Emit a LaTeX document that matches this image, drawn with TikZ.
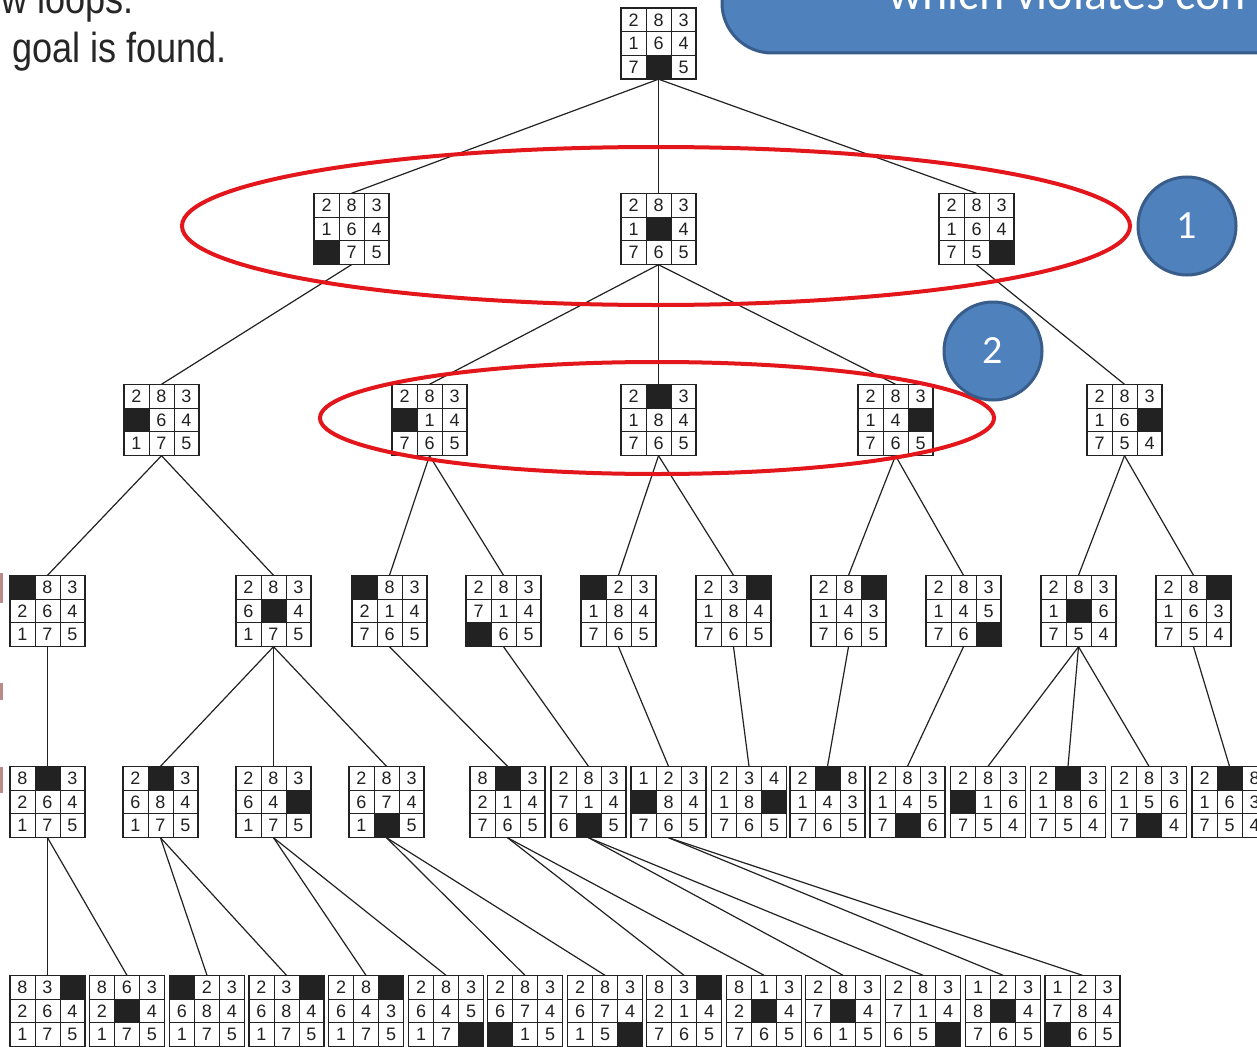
\documentclass[tikz,border=0pt]{standalone}
\usepackage{fontspec}
\setmainfont{Liberation Sans}
\newfontfamily\carlito{Carlito}
\usetikzlibrary{positioning}
\definecolor{tile}{HTML}{222222}
\definecolor{callblue}{HTML}{4F81BD}
\definecolor{callrim}{HTML}{385D8A}
\definecolor{ring}{HTML}{E3171B}
\definecolor{slidetxt}{HTML}{262626}
\definecolor{smudge}{HTML}{B98A8A}

% one 8-puzzle board: name, x, y, nine entries (0 = blank)
\newcommand{\puzzle}[4]{%
  \node[board] (#1) at (#2,#3) {};
  \foreach \v [count=\k from 0] in {#4} {
    \pgfmathtruncatemacro\cc{mod(\k,3)}
    \pgfmathtruncatemacro\rr{div(\k,3)}
    \ifnum\v=0
      \fill[tile] (#2-37.5+\cc*25,#3-35.5+\rr*23.667) rectangle ++(25,23.667);
    \else
      \node[num] at (#2-25+\cc*25,#3-23.667+\rr*23.667) {\v};
    \fi
  }
  \draw[cellline] (#2-12.5,#3-35.5) -- ++(0,71) (#2+12.5,#3-35.5) -- ++(0,71)
    (#2-37.5,#3-11.83) -- ++(75,0) (#2-37.5,#3+11.83) -- ++(75,0);
  \draw[frame] (#2-37.5,#3-35.5) rectangle ++(75,71);
}

\begin{document}
\begin{tikzpicture}[x=1pt,y=-1pt,
  board/.style={minimum width=75pt,minimum height=71pt,inner sep=0pt},
  num/.style={font=\fontsize{18}{18}\selectfont,text=tile,inner sep=0pt},
  cellline/.style={tile,line width=1pt},
  frame/.style={tile,line width=1.8pt},
  edge/.style={tile,line width=1.2pt},
  loop/.style={draw=ring,line width=4pt},
  slide/.style={anchor=base west,inner sep=0pt,text=slidetxt,
    font=\fontsize{42}{42}\selectfont},
  badge/.style={circle,fill=callblue,draw=callrim,line width=3pt,
    minimum size=98pt,text=white,font=\carlito\fontsize{40}{40}\selectfont}]
\useasboundingbox (0,0) rectangle (1257,1046);
\fill[white] (0,0) rectangle (1257,1046);

% slide leftovers
\fill[callblue,draw=callrim,line width=3pt,rounded corners=50pt]
  (722,-90) rectangle (1330,53);
\node[anchor=base west,inner sep=0pt,text=white,
  font=\carlito\fontsize{48}{48}\selectfont] (note) at (888,10) {which violates con};
\node[slide] (rule1) at (1,14) {\scalebox{0.86}[1]{w loops.}};
\node[slide] (rule2) at (12,63) {\scalebox{0.86}[1]{goal is found.}};
\fill[smudge] (0,573) rectangle (3,603);
\fill[smudge] (0,683) rectangle (3,700);
\fill[smudge] (0,767) rectangle (3,793);

% search tree
\puzzle{r}{658.5}{43.5}{2,8,3,1,6,4,7,0,5}
\puzzle{a1}{351.5}{229}{2,8,3,1,6,4,0,7,5}
\puzzle{a2}{658.5}{229}{2,8,3,1,0,4,7,6,5}
\puzzle{a3}{976.5}{229}{2,8,3,1,6,4,7,5,0}
\puzzle{b1}{161.5}{420}{2,8,3,0,6,4,1,7,5}
\puzzle{b2}{429.5}{420}{2,8,3,0,1,4,7,6,5}
\puzzle{b3}{658.5}{420}{2,0,3,1,8,4,7,6,5}
\puzzle{b4}{895.5}{420}{2,8,3,1,4,0,7,6,5}
\puzzle{b5}{1124.5}{420}{2,8,3,1,6,0,7,5,4}
\puzzle{c1}{47.5}{611}{0,8,3,2,6,4,1,7,5}
\puzzle{c2}{273.5}{611}{2,8,3,6,0,4,1,7,5}
\puzzle{c3}{389.5}{611}{0,8,3,2,1,4,7,6,5}
\puzzle{c4}{503.5}{611}{2,8,3,7,1,4,0,6,5}
\puzzle{c5}{618.5}{611}{0,2,3,1,8,4,7,6,5}
\puzzle{c6}{733.5}{611}{2,3,0,1,8,4,7,6,5}
\puzzle{c7}{848.5}{611}{2,8,0,1,4,3,7,6,5}
\puzzle{c8}{963.5}{611}{2,8,3,1,4,5,7,6,0}
\puzzle{c9}{1078.5}{611}{2,8,3,1,0,6,7,5,4}
\puzzle{c10}{1193.5}{611}{2,8,0,1,6,3,7,5,4}
\puzzle{d1}{47.5}{802}{8,0,3,2,6,4,1,7,5}
\puzzle{d2}{160.5}{802}{2,0,3,6,8,4,1,7,5}
\puzzle{d3}{273.5}{802}{2,8,3,6,4,0,1,7,5}
\puzzle{d4}{386.5}{802}{2,8,3,6,7,4,1,0,5}
\puzzle{d5}{507.5}{802}{8,0,3,2,1,4,7,6,5}
\puzzle{d6}{588.5}{802}{2,8,3,7,1,4,6,0,5}
\puzzle{d7}{668.5}{802}{1,2,3,0,8,4,7,6,5}
\puzzle{d8}{749}{802}{2,3,4,1,8,0,7,6,5}
\puzzle{d9}{827.5}{802}{2,0,8,1,4,3,7,6,5}
\puzzle{d10}{907.5}{802}{2,8,3,1,4,5,7,0,6}
\puzzle{d11}{988}{802}{2,8,3,0,1,6,7,5,4}
\puzzle{d12}{1068}{802}{2,0,3,1,8,6,7,5,4}
\puzzle{d13}{1149}{802}{2,8,3,1,5,6,7,0,4}
\puzzle{d14}{1229.5}{802}{2,0,8,1,6,3,7,5,4}
\puzzle{e1}{47.5}{1011}{8,3,0,2,6,4,1,7,5}
\puzzle{e2}{127}{1011}{8,6,3,2,0,4,1,7,5}
\puzzle{e3}{207}{1011}{0,2,3,6,8,4,1,7,5}
\puzzle{e4}{286.5}{1011}{2,3,0,6,8,4,1,7,5}
\puzzle{e5}{366}{1011}{2,8,0,6,4,3,1,7,5}
\puzzle{e6}{446}{1011}{2,8,3,6,4,5,1,7,0}
\puzzle{e7}{525}{1011}{2,8,3,6,7,4,0,1,5}
\puzzle{e8}{605}{1011}{2,8,3,6,7,4,1,5,0}
\puzzle{e9}{684}{1011}{8,3,0,2,1,4,7,6,5}
\puzzle{e10}{764}{1011}{8,1,3,2,0,4,7,6,5}
\puzzle{e11}{843}{1011}{2,8,3,7,0,4,6,1,5}
\puzzle{e12}{923}{1011}{2,8,3,7,1,4,6,5,0}
\puzzle{e13}{1003}{1011}{1,2,3,8,0,4,7,6,5}
\puzzle{e14}{1082.5}{1011}{1,2,3,7,8,4,0,6,5}

\draw[edge] (r.south) -- (a1.north);
\draw[edge] (r.south) -- (a2.north);
\draw[edge] (r.south) -- (a3.north);
\draw[edge] (a1.south) -- (b1.north);
\draw[edge] (a2.south) -- (b2.north);
\draw[edge] (a2.south) -- (b3.north);
\draw[edge] (a2.south) -- (b4.north);
\draw[edge] (a3.south) -- (b5.north);
\draw[edge] (b1.south) -- (c1.north);
\draw[edge] (b1.south) -- (c2.north);
\draw[edge] (b2.south) -- (c3.north);
\draw[edge] (b2.south) -- (c4.north);
\draw[edge] (b3.south) -- (c5.north);
\draw[edge] (b3.south) -- (c6.north);
\draw[edge] (b4.south) -- (c7.north);
\draw[edge] (b4.south) -- (c8.north);
\draw[edge] (b5.south) -- (c9.north);
\draw[edge] (b5.south) -- (c10.north);
\draw[edge] (c1.south) -- (d1.north);
\draw[edge] (c2.south) -- (d2.north);
\draw[edge] (c2.south) -- (d3.north);
\draw[edge] (c2.south) -- (d4.north);
\draw[edge] (c3.south) -- (d5.north);
\draw[edge] (c4.south) -- (d6.north);
\draw[edge] (c5.south) -- (d7.north);
\draw[edge] (c6.south) -- (d8.north);
\draw[edge] (c7.south) -- (d9.north);
\draw[edge] (c8.south) -- (d10.north);
\draw[edge] (c9.south) -- (d11.north);
\draw[edge] (c9.south) -- (d12.north);
\draw[edge] (c9.south) -- (d13.north);
\draw[edge] (c10.south) -- (d14.north);
\draw[edge] (d1.south) -- (e1.north);
\draw[edge] (d1.south) -- (e2.north);
\draw[edge] (d2.south) -- (e3.north);
\draw[edge] (d2.south) -- (e4.north);
\draw[edge] (d3.south) -- (e5.north);
\draw[edge] (d3.south) -- (e6.north);
\draw[edge] (d4.south) -- (e7.north);
\draw[edge] (d4.south) -- (e8.north);
\draw[edge] (d5.south) -- (e9.north);
\draw[edge] (d5.south) -- (e10.north);
\draw[edge] (d6.south) -- (e11.north);
\draw[edge] (d6.south) -- (e12.north);
\draw[edge] (d7.south) -- (e13.north);
\draw[edge] (d7.south) -- (e14.north);

% marked levels
\draw[loop] (656,226) ellipse [x radius=474pt,y radius=79pt];
\draw[loop] (657,418) ellipse [x radius=337pt,y radius=56pt];
\node[badge] (one) at (1187,226) {1};
\node[badge] (two) at (993,351) {2};
\end{tikzpicture}
\end{document}
